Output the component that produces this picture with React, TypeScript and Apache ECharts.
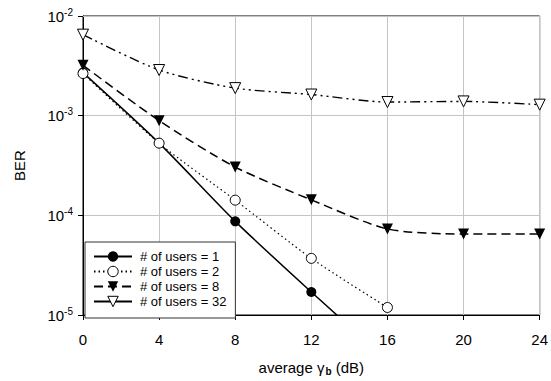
import React, { useEffect, useRef } from "react";
import * as echarts from "echarts";

const snr = [0, 4, 8, 12, 16, 20, 24];
const users1 = [2.7e-3, 5.3e-4, 8.7e-5, 1.7e-5, 3.5e-6];
const users2 = [2.65e-3, 5.3e-4, 1.42e-4, 3.7e-5, 1.19e-5];
const users8 = [3.2e-3, 8.9e-4, 3.05e-4, 1.43e-4, 7.3e-5, 6.5e-5, 6.5e-5];
const users32 = [6.5e-3, 2.87e-3, 1.89e-3, 1.63e-3, 1.37e-3, 1.39e-3, 1.29e-3];
const seriesNames = ["# of users = 1", "# of users = 2", "# of users = 8", "# of users = 32"];
const xTicks = [0, 4, 8, 12, 16, 20, 24];

const FONT = "'Liberation Sans', Arial, sans-serif";

function pairs(vals: number[]) {
  return vals.map((v, i) => [snr[i], v]);
}

export default function App() {
  const ref = useRef<HTMLDivElement>(null);
  useEffect(() => {
    if (!ref.current) return;
    const chart = echarts.init(ref.current, null, { renderer: "svg" });
    const minorVals: number[] = [];
    for (let d = -5; d < -2; d++) {
      for (let m = 2; m <= 9; m++) minorVals.push(m * Math.pow(10, d));
    }
    const common = { type: "line", smooth: 0.25, z: 5, clip: true };
    chart.setOption({
      animation: false,
      textStyle: { fontFamily: FONT },
      grid: {
        left: 83,
        right: 10,
        top: 16,
        bottom: 63,
        show: true,
        borderColor: "#000",
        borderWidth: 1,
        backgroundColor: "transparent",
      },
      xAxis: {
        type: "value",
        min: xTicks[0],
        max: xTicks[xTicks.length - 1],
        interval: 4,
        name: "{a|average γ}{sub|b}{a| (dB)}",
        nameLocation: "middle",
        nameGap: 43,
        nameTextStyle: {
          rich: {
            a: { fontSize: 15, fontFamily: FONT, color: "#000" },
            sub: { fontSize: 10, fontWeight: "bold", fontFamily: FONT, color: "#000", padding: [8, 0, 0, 1] },
          },
        },
        axisLine: { show: true, lineStyle: { color: "#000", width: 1 } },
        axisTick: { show: true, length: 5, inside: false, lineStyle: { color: "#000" } },
        axisLabel: { fontSize: 15, color: "#000", margin: 17, fontFamily: FONT },
        splitLine: { show: true, lineStyle: { color: "#c4c4c4", width: 1 } },
      },
      yAxis: {
        type: "log",
        logBase: 10,
        min: 1e-5,
        max: 1e-2,
        interval: 1,
        name: "BER",
        nameLocation: "middle",
        nameGap: 56,
        nameTextStyle: { fontSize: 15, color: "#000", fontFamily: FONT },
        axisLine: { show: true, lineStyle: { color: "#000", width: 1 } },
        axisTick: { show: true, length: 5, lineStyle: { color: "#000" } },
        axisLabel: {
          margin: 10,
          formatter: (v: number) => `{b|10}{s|${Math.round(Math.log10(v))}}`,
          rich: {
            b: { fontSize: 15, color: "#000", fontFamily: FONT },
            s: { fontSize: 10, color: "#000", fontFamily: FONT, verticalAlign: "top", padding: [0, 0, 8, 0] },
          },
        },
        splitLine: { show: true, lineStyle: { color: "#c4c4c4", width: 1 } },
      },
      legend: {
        orient: "vertical",
        left: 85,
        top: 242,
        padding: [8, 9, 10, 8],
        itemGap: 2,
        itemWidth: 38,
        itemHeight: 13,
        backgroundColor: "#fff",
        borderColor: "#333",
        borderWidth: 1,
        borderRadius: 0,
        itemStyle: { borderWidth: 1 },
        textStyle: { fontSize: 13, color: "#000", fontFamily: FONT, padding: [0, 0, 0, 3] },
        data: [
          { name: seriesNames[0] },
          { name: seriesNames[1], itemStyle: { borderWidth: 1 } },
          { name: seriesNames[2] },
          { name: seriesNames[3], itemStyle: { borderWidth: 1 }, lineStyle: { type: "solid" } },
        ],
      },
      series: [
        {
          name: "grid-minor",
          type: "line",
          data: [],
          z: 1,
          silent: true,
          markLine: {
            silent: true,
            symbol: ["none", "none"],
            label: { show: false },
            lineStyle: { color: "#c4c4c4", type: "solid", width: 1 },
            emphasis: { disabled: true },
            data: minorVals.map((v) => ({ yAxis: v })),
          },
        },
        {
          ...common,
          name: seriesNames[0],
          data: pairs(users1),
          symbol: "circle",
          symbolSize: 10,
          itemStyle: { color: "#000" },
          lineStyle: { color: "#000", width: 1.5, type: "solid" },
        },
        {
          ...common,
          name: seriesNames[1],
          data: pairs(users2),
          symbol: "circle",
          symbolSize: 10,
          itemStyle: { color: "#fff", borderColor: "#000", borderWidth: 1 },
          lineStyle: { color: "#000", width: 1.2, type: [1.5, 3] },
        },
        {
          ...common,
          name: seriesNames[2],
          data: pairs(users8),
          symbol: "triangle",
          symbolRotate: 180,
          symbolSize: 11,
          itemStyle: { color: "#000" },
          lineStyle: { color: "#000", width: 1.5, type: [9, 5] },
        },
        {
          ...common,
          name: seriesNames[3],
          data: pairs(users32),
          symbol: "triangle",
          symbolRotate: 180,
          symbolSize: 11,
          itemStyle: { color: "#fff", borderColor: "#000", borderWidth: 1 },
          lineStyle: { color: "#000", width: 1.4, type: [10, 4, 2, 4, 2, 4] },
        },
      ],
    });
    return () => chart.dispose();
  }, []);
  return <div ref={ref} style={{ width: 551, height: 381, position: "absolute", left: 0, top: 0, background: "#fff" }} />;
}
